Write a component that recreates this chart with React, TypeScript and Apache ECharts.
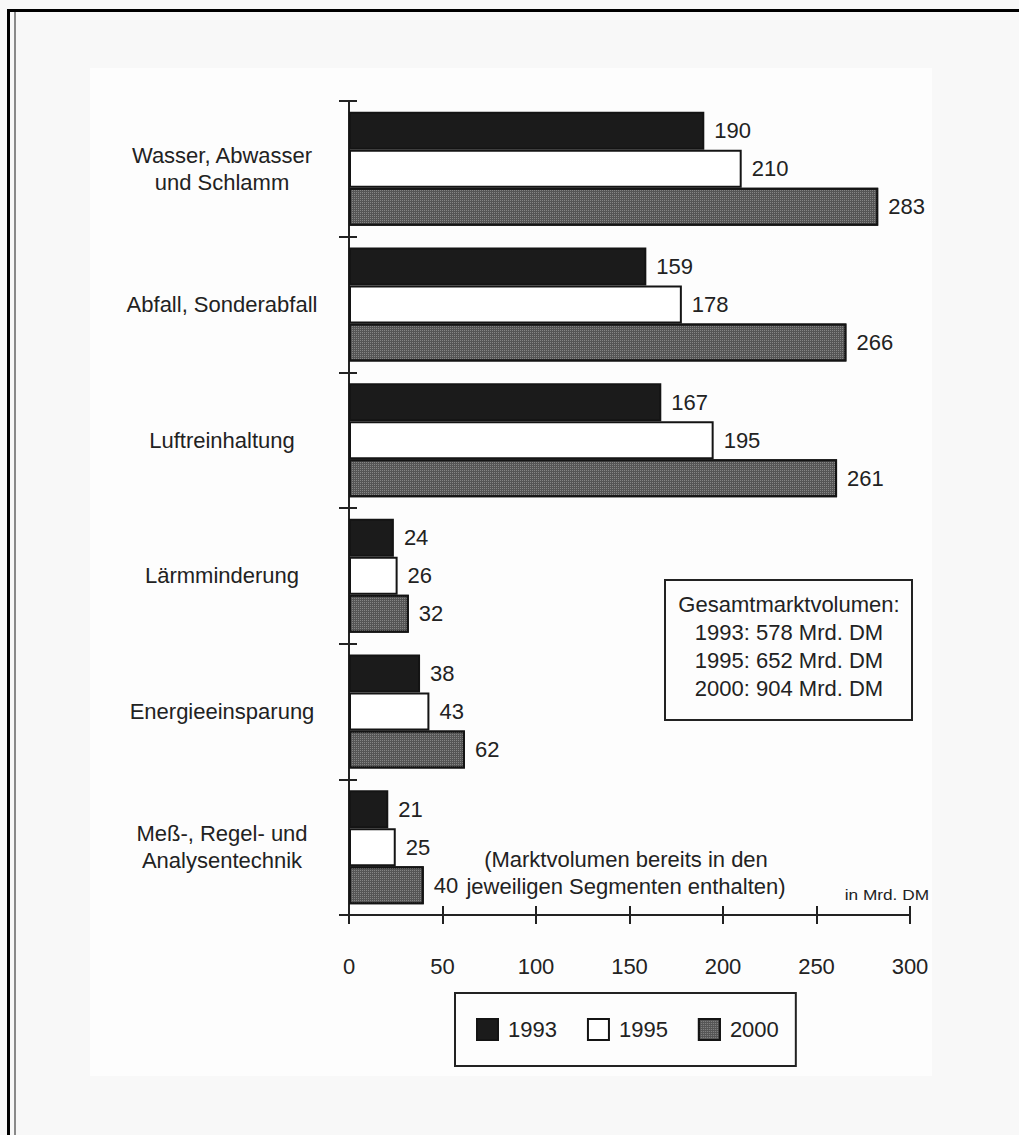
import React, { useEffect, useRef } from "react";
import * as echarts from "echarts";

// Umweltschutzmarkt nach Segmenten, Marktvolumen in Mrd. DM
const categories = [
  "Wasser, Abwasser\nund Schlamm",
  "Abfall, Sonderabfall",
  "Luftreinhaltung",
  "Lärmminderung",
  "Energieeinsparung",
  "Meß-, Regel- und\nAnalysentechnik",
];
const years = ["1993", "1995", "2000"];
const values1993 = [190, 159, 167, 24, 38, 21];
const values1995 = [210, 178, 195, 26, 43, 25];
const values2000 = [283, 266, 261, 32, 62, 40];
const totalVolumes = [578, 652, 904];
const xMin = 0;
const xMax = 300;
const xInterval = 50;
const unitLabel = "in Mrd. DM";
const noteLines = ["(Marktvolumen bereits in den", "jeweiligen Segmenten enthalten)"];
const boxTitle = "Gesamtmarktvolumen:";

const FONT = "'Liberation Sans', Arial, Helvetica, sans-serif";
const INK = "#222222";

export default function App() {
  const ref = useRef<HTMLDivElement>(null);

  useEffect(() => {
    if (!ref.current) return;
    const chart = echarts.init(ref.current, null, { renderer: "svg" });

    const barBorder = { borderColor: "#141414", borderWidth: 2 };
    const label = {
      show: true,
      position: "right" as const,
      distance: 10,
      fontSize: 22,
      fontFamily: FONT,
      color: INK,
    };

    const seriesValues = [values1993, values1995, values2000];
    const seriesStyles = [
      { color: "#1b1b1b", ...barBorder },
      { color: "#ffffff", ...barBorder },
      {
        color: "#555555",
        ...barBorder,
        decal: {
          symbol: "rect",
          symbolSize: 1,
          dashArrayX: [1, 1],
          dashArrayY: [1, 1],
          color: "rgba(190,190,190,0.45)",
        },
      },
    ];

    const boxLines = [boxTitle, ...years.map((y, i) => `${y}: ${totalVolumes[i]} Mrd. DM`)];

    chart.setOption({
      animation: false,
      backgroundColor: "#f8f8f8",
      textStyle: { fontFamily: FONT },
      grid: {
        left: 349,
        top: 101,
        width: 561,
        height: 814,
        outerBoundsMode: "none",
      },
      legend: {
        data: years,
        left: 455,
        top: 993,
        orient: "horizontal",
        icon: "rect",
        itemWidth: 21,
        itemHeight: 21,
        itemGap: 30,
        borderColor: INK,
        borderWidth: 2,
        backgroundColor: "#fdfdfd",
        padding: [25, 17, 25, 21],
        itemStyle: { borderColor: "#141414", borderWidth: 2 },
        textStyle: { fontSize: 22, color: INK, fontFamily: FONT, padding: [0, 0, 0, 5] },
        selectedMode: false,
      },
      xAxis: [
        {
          type: "value",
          min: xMin,
          max: xMax,
          interval: xInterval,
          position: "bottom",
          axisLine: { show: true, lineStyle: { color: INK, width: 2 } },
          axisTick: { show: true, length: 9, lineStyle: { color: INK, width: 2 } },
          axisLabel: { fontSize: 22, color: INK, fontFamily: FONT, margin: 40 },
          splitLine: { show: false },
        },
        {
          type: "value",
          min: xMin,
          max: xMax,
          interval: xInterval,
          position: "bottom",
          axisLine: { show: false },
          axisTick: { show: true, inside: true, length: 9, lineStyle: { color: INK, width: 2 } },
          axisLabel: { show: false },
          splitLine: { show: false },
        },
      ],
      yAxis: [
        {
          type: "category",
          data: categories,
          inverse: true,
          position: "left",
          axisLine: { show: true, lineStyle: { color: INK, width: 2 } },
          axisTick: { show: true, length: 10, lineStyle: { color: INK, width: 2 } },
          axisLabel: {
            fontSize: 22,
            lineHeight: 27,
            color: INK,
            fontFamily: FONT,
            align: "center",
            margin: 127,
          },
        },
        {
          type: "category",
          data: categories,
          inverse: true,
          position: "left",
          axisLine: { show: false },
          axisTick: { show: true, inside: true, length: 8, lineStyle: { color: INK, width: 2 } },
          axisLabel: { show: false },
        },
      ],
      series: years.map((y, i) => ({
        name: y,
        type: "bar",
        xAxisIndex: 0,
        yAxisIndex: 0,
        data: seriesValues[i],
        barWidth: 38,
        barGap: "0%",
        itemStyle: seriesStyles[i],
        label,
      })),
      graphic: [
        // paper sheet
        {
          type: "rect",
          z: -10,
          silent: true,
          shape: { x: 90, y: 68, width: 842, height: 1008 },
          style: { fill: "#fdfdfd" },
        },
        // frame lines of the page
        {
          type: "rect",
          z: 20,
          silent: true,
          shape: { x: 7, y: 9, width: 1012, height: 3 },
          style: { fill: "#000" },
        },
        {
          type: "rect",
          z: 20,
          silent: true,
          shape: { x: 7, y: 9, width: 3, height: 1126 },
          style: { fill: "#000" },
        },
        {
          type: "rect",
          z: 20,
          silent: true,
          shape: { x: 14, y: 12, width: 2, height: 1123 },
          style: { fill: "#8a8a8a" },
        },
        // total market volume box
        {
          type: "rect",
          z: 10,
          shape: { x: 665, y: 580, width: 247, height: 140 },
          style: { fill: "#fdfdfd", stroke: INK, lineWidth: 2 },
        },
        ...boxLines.map((t, i) => ({
          type: "text",
          z: 11,
          x: 789,
          y: 604 + i * 28,
          style: {
            text: t,
            fontSize: 22,
            fontFamily: FONT,
            fill: INK,
            textAlign: "center",
            textVerticalAlign: "middle",
          },
        })),
        // note about segment volumes
        ...noteLines.map((t, i) => ({
          type: "text",
          z: 11,
          x: 626,
          y: 859 + i * 27,
          style: {
            text: t,
            fontSize: 22,
            fontFamily: FONT,
            fill: INK,
            textAlign: "center",
            textVerticalAlign: "middle",
          },
        })),
        // unit label
        {
          type: "text",
          z: 11,
          x: 929,
          y: 894,
          scaleX: 1.15,
          originX: 0,
          originY: 0,
          style: {
            text: unitLabel,
            fontSize: 15,
            fontFamily: FONT,
            fill: INK,
            textAlign: "right",
            textVerticalAlign: "middle",
          },
        },
      ],
    });

    return () => chart.dispose();
  }, []);

  return (
    <div
      ref={ref}
      style={{ position: "absolute", left: 0, top: 0, width: 1019, height: 1135 }}
    />
  );
}
